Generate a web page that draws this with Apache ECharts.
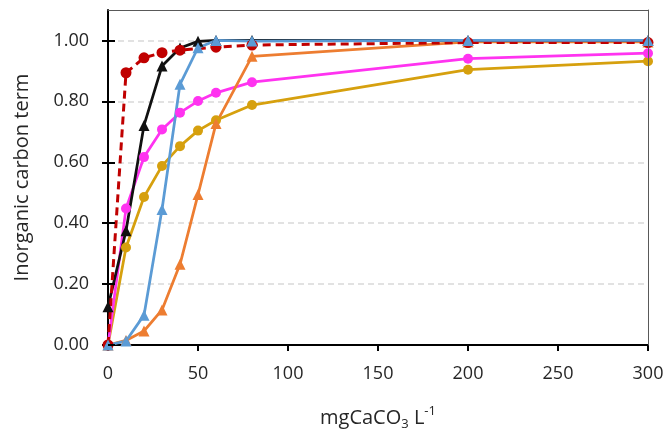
<!DOCTYPE html>
<html>
<head>
<meta charset="utf-8">
<script src="https://cdn.jsdelivr.net/npm/echarts@6/dist/echarts.min.js"></script>
<style>html,body{margin:0;padding:0;background:#fff;}#c{width:664px;height:430px;}</style>
</head>
<body>
<div id="c"></div>
<script>
// Data (x in mgCaCO3 L-1, y = inorganic carbon term)
const xGold    = [0, 10, 20, 30, 40, 50, 60, 80, 200, 300];
const yGold    = [0.00, 0.32, 0.486, 0.588, 0.653, 0.704, 0.738, 0.788, 0.904, 0.932];
const xMagenta = [0, 10, 20, 30, 40, 50, 60, 80, 200, 300];
const yMagenta = [0.00, 0.448, 0.617, 0.708, 0.763, 0.801, 0.828, 0.863, 0.940, 0.958];
const xOrange  = [0, 10, 20, 30, 40, 50, 60, 80, 200, 300];
const yOrange  = [0.00, 0.015, 0.046, 0.115, 0.265, 0.494, 0.727, 0.948, 0.995, 0.995];
const xBlack   = [0, 10, 20, 30, 40, 50, 60, 80, 200, 300];
const yBlack   = [0.126, 0.375, 0.721, 0.916, 0.975, 0.997, 1.00, 1.00, 1.00, 1.00];
const xRed     = [0, 10, 20, 30, 40, 60, 80, 200, 300];
const yRed     = [0.00, 0.894, 0.943, 0.960, 0.968, 0.978, 0.985, 0.993, 0.993];
const xBlue    = [0, 10, 20, 30, 40, 50, 60, 80, 200, 300];
const yBlue    = [0.00, 0.013, 0.098, 0.445, 0.856, 0.976, 1.00, 0.998, 1.00, 1.00];
const yTickValues = [0, 0.2, 0.4, 0.6, 0.8, 1.0];

const FONT = 'Open Sans';
const pair = (xs, ys) => xs.map((x, i) => [x, ys[i]]);

function lineSeries(name, xs, ys, color, symbol, size, dashed) {
  return {
    name, type: 'line', data: pair(xs, ys),
    symbol, symbolSize: size, showSymbol: true,
    lineStyle: { color, width: dashed ? 3 : 2.75, type: dashed ? [8, 5] : 'solid' },
    itemStyle: { color, borderWidth: 0 },
    emphasis: { disabled: true }, animation: false
  };
}

const chart = echarts.init(document.getElementById('c'), null, { renderer: 'canvas' });
chart.setOption({
  backgroundColor: '#ffffff',
  animation: false,
  grid: { left: 108, right: 16, top: 10, bottom: 85, containLabel: false, outerBoundsMode: 'none' },
  xAxis: [{
    type: 'value', min: 0, max: 300, interval: 50, position: 'bottom',
    axisLine: { show: true, onZero: false, lineStyle: { color: '#000', width: 2 } },
    axisTick: { show: true, inside: false, length: 6, lineStyle: { color: '#000', width: 2 } },
    axisLabel: { fontFamily: FONT, fontSize: 18, color: '#262626', margin: 20 },
    splitLine: { show: false },
    name: 'mgCaCO{sub|3} L{sup|-1}',
    nameLocation: 'middle', nameGap: 60,
    nameTextStyle: {
      fontFamily: FONT, fontSize: 20, color: '#262626', lineHeight: 26,
      rich: {
        sub: { fontFamily: FONT, fontSize: 13, color: '#262626', lineHeight: 14, verticalAlign: 'bottom' },
        sup: { fontFamily: FONT, fontSize: 13, color: '#262626', lineHeight: 14, verticalAlign: 'top' }
      }
    }
  }, {
    type: 'value', min: 0, max: 300, position: 'top', z: 5,
    axisLine: { show: true, onZero: false, lineStyle: { color: '#595959', width: 1 } },
    axisTick: { show: false }, axisLabel: { show: false }, splitLine: { show: false }
  }],
  yAxis: [{
    type: 'value', min: 0, max: 1.1, interval: 0.2, position: 'left',
    axisLine: { show: true, onZero: false, lineStyle: { color: '#000', width: 2 } },
    axisTick: { show: true, inside: false, length: 6, customValues: yTickValues, lineStyle: { color: '#000', width: 2 } },
    axisLabel: { fontFamily: FONT, fontSize: 18, color: '#262626', margin: 19, customValues: yTickValues,
      formatter: v => v.toFixed(2) },
    splitLine: { show: true, lineStyle: { color: '#d9d9d9', width: 1.5, type: [6, 4] } },
    name: 'Inorganic carbon term', nameLocation: 'middle', nameGap: 76,
    nameTextStyle: { fontFamily: FONT, fontSize: 20, color: '#262626' }
  }, {
    type: 'value', min: 0, max: 1.1, interval: 0.2, position: 'left', z: 5,
    axisLine: { show: false },
    axisTick: { show: true, inside: true, length: 7, customValues: yTickValues, lineStyle: { color: '#000', width: 2 } },
    axisLabel: { show: false }, splitLine: { show: false }
  }, {
    type: 'value', min: 0, max: 1.1, position: 'right', z: 5,
    axisLine: { show: true, onZero: false, lineStyle: { color: '#595959', width: 1 } },
    axisTick: { show: false }, axisLabel: { show: false }, splitLine: { show: false }
  }],
  series: [
    lineSeries('gold', xGold, yGold, '#d6a00e', 'circle', 10, false),
    lineSeries('magenta', xMagenta, yMagenta, '#ff33f0', 'circle', 10, false),
    lineSeries('orange', xOrange, yOrange, '#ed7d31', 'triangle', 11, false),
    lineSeries('black', xBlack, yBlack, '#111111', 'triangle', 11, false),
    lineSeries('red', xRed, yRed, '#c00000', 'circle', 11, true),
    lineSeries('blue', xBlue, yBlue, '#5b9bd5', 'triangle', 11, false)
  ]
});
</script>
</body>
</html>
